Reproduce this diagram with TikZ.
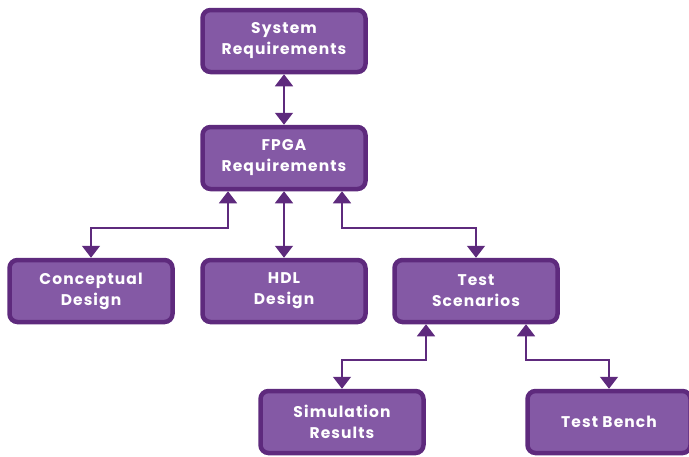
\documentclass[tikz,border=0pt]{standalone}
\usepackage{fontspec}
\setmainfont{Poppins}[LetterSpace=7]
\usetikzlibrary{arrows.meta}
\definecolor{boxfill}{HTML}{8459A5}
\definecolor{boxline}{HTML}{5E2A7D}
\tikzset{
  box/.style={draw=boxline, fill=boxfill, line width=4.5pt, rounded corners=8pt,
    minimum width=163pt, minimum height=62pt, align=center, text=white,
    font=\bfseries\fontsize{15.5}{21}\selectfont},
  link/.style={draw=boxline, line width=1.6pt,
    {Triangle[width=18pt,length=12pt]}-{Triangle[width=18pt,length=12pt]}}
}
\begin{document}
\begin{tikzpicture}[x=1pt,y=-1pt]
  \useasboundingbox (0,0) rectangle (689,456);
  \draw
    (284,41) node[box] (sys){System\\Requirements}
    (284,158) node[box] (fpga){FPGA\\Requirements}
    (91,291) node[box] (concept){Conceptual\\Design}
    (284,291) node[box] (hdl){HDL\\Design}
    (476,291) node[box] (scen){Test\\Scenarios}
    (342,422) node[box] (sim){Simulation\\Results}
    (609,422) node[box] (bench){Test Bench};
  \begin{scope}[link]
    \draw (sys) to (fpga);
    \draw (fpga) to (hdl);
    \draw ([xshift=-56pt]fpga.south) -- ++(0,37) -| (concept.north);
    \draw ([xshift=58pt]fpga.south) -- ++(0,37) -| (scen.north);
    \draw ([xshift=-50pt]scen.south) -- ++(0,36) -| (sim.north);
    \draw ([xshift=50pt]scen.south) -- ++(0,36) -| (bench.north);
  \end{scope}
\end{tikzpicture}
\end{document}
